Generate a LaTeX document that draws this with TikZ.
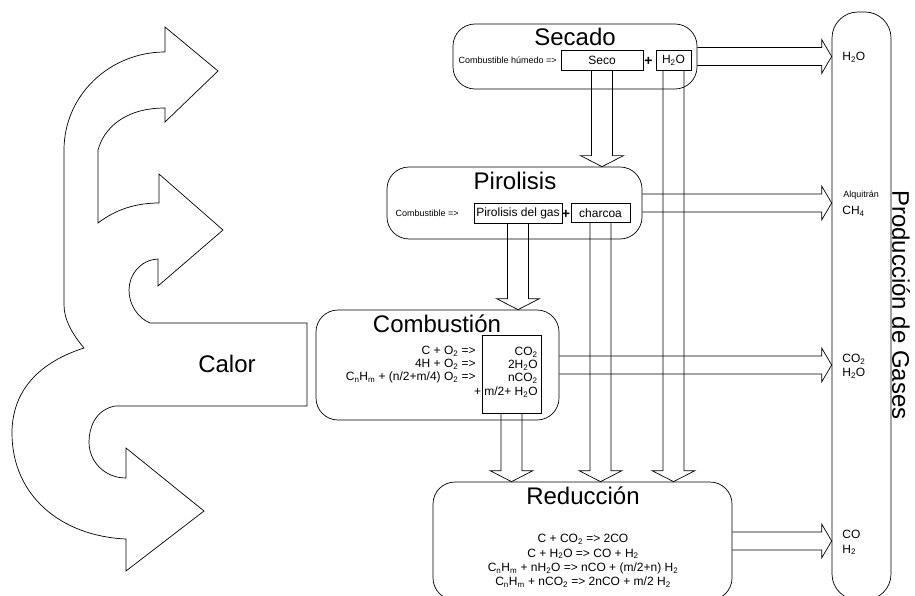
\documentclass[tikz,border=0pt]{standalone}
\usepackage{fontspec}
\setmainfont{Liberation Sans}
\usetikzlibrary{calc}
\newcommand{\sbs}[1]{\textsubscript{#1}}

\begin{document}
\begin{tikzpicture}[x=1pt,y=-1pt,line width=0.7pt,
  stage/.style={draw,rounded corners=22,inner sep=0},
  cell/.style={draw,inner sep=0,font=\fontsize{12}{14}\selectfont},
  big/.style={font=\fontsize{24}{28}\selectfont,inner sep=0},
  eq/.style={font=\fontsize{12}{13}\selectfont,inner sep=0},
  tiny/.style={font=\fontsize{9}{11}\selectfont,inner sep=0},
  plus/.style={font=\fontsize{14}{14}\selectfont\bfseries,inner sep=0},
  fatdown/.style={to path={($(\tikztostart)+(-10.5,0)$) -- ($(\tikztotarget)+(-10.5,-11)$) -- ($(\tikztotarget)+(-21.5,-11)$) -- (\tikztotarget) -- ($(\tikztotarget)+(21.5,-11)$) -- ($(\tikztotarget)+(10.5,-11)$) -- ($(\tikztostart)+(10.5,0)$)}},
  fatright/.style={to path={($(\tikztostart)+(0,-9)$) -- ($(\tikztotarget)+(-10,-9)$) -- ($(\tikztotarget)+(-10,-17)$) -- (\tikztotarget) -- ($(\tikztotarget)+(-10,17)$) -- ($(\tikztotarget)+(-10,9)$) -- ($(\tikztostart)+(0,9)$)}}]
  \useasboundingbox (0,0) rectangle (915,596);
  \clip (0,0) rectangle (915,596);

  \draw (307,323) -- (307,406) -- (115,406)
    .. controls (95,410) and (89,428) .. (89,442)
    .. controls (89,462) and (105,478) .. (126,478)
    -- (126,448) -- (204,511) -- (126,571) -- (126,539)
    .. controls (60,536) and (12,495) .. (12,433)
    .. controls (12,390) and (40,362) .. (84,348)
    .. controls (73,335) and (64,320) .. (64,305) -- (64,150)
    .. controls (64,95) and (110,52) .. (165,52)
    -- (165,27) -- (218,71) -- (165,122) -- (165,108)
    .. controls (125,108) and (104,128) .. (98,150) -- (98,223)
    .. controls (115,210) and (135,203) .. (159,203)
    -- (159,174) -- (223,230) -- (158,286) -- (158,259)
    .. controls (140,260) and (129,275) .. (129,290)
    .. controls (129,305) and (138,318) .. (150,323) -- cycle;
  \node[big] (calor) at (227,364) {Calor};

  \node[stage,minimum width=244,minimum height=65] (secado) at (575,56.5) {};
  \node[big] (secadot) at (575,37) {Secado};
  \node[tiny,anchor=east] (humedo) at (557,60) {Combustible húmedo =>};
  \node[cell,minimum width=82,minimum height=20] (seco) at (602,60) {Seco};
  \node[plus] (mas1) at (648.5,61) {+};
  \node[cell,minimum width=35,minimum height=20] (agua) at (673.5,60) {H\sbs{2}O};

  \node[stage,minimum width=255,minimum height=72] (piro) at (514.5,203) {};
  \node[big] (pirot) at (515,181) {Pirolisis};
  \node[tiny,anchor=east] (combus) at (459,213) {Combustible =>};
  \node[cell,minimum width=88,minimum height=20] (pgas) at (518,213) {Pirolisis del gas};
  \node[plus] (mas2) at (566,214) {+};
  \node[cell,minimum width=59,minimum height=19] (charcoa) at (600.5,213) {charcoa};

  \node[stage,minimum width=243,minimum height=110] (comb) at (437.5,365) {};
  \node[big] (combt) at (437,324) {Combustión};
  \node[cell,minimum width=59,minimum height=78] (cprod) at (511.5,374) {};
  \node[eq,align=right,anchor=east] (creac) at (476,365) {C + O\sbs{2} =>\\4H + O\sbs{2} =>\\C\sbs{n}H\sbs{m} + (n/2+m/4) O\sbs{2} =>};
  \node[eq,align=right,anchor=east] (cres) at (538,372.5) {CO\sbs{2}\\2H\sbs{2}O\\nCO\sbs{2}\\[1pt]+ m/2+ H\sbs{2}O};

  \node[stage,minimum width=299,minimum height=118] (red) at (582.5,541) {};
  \node[big] (redt) at (583,496) {Reducción};
  \node[eq,align=center,font=\fontsize{12}{14.3}\selectfont] (rreac) at (583,561) {C + CO\sbs{2} => 2CO\\C + H\sbs{2}O => CO + H\sbs{2}\\C\sbs{n}H\sbs{m} + nH\sbs{2}O => nCO + (m/2+n) H\sbs{2}\\C\sbs{n}H\sbs{m} + nCO\sbs{2} => 2nCO + m/2 H\sbs{2}};

  \node[stage,rounded corners=26,minimum width=59,minimum height=588] (gases) at (861.5,306) {};
  \node[big,rotate=-90] (gasest) at (901,305) {Producción de Gases};
  \node[eq,anchor=west] (g1) at (842,57) {H\sbs{2}O};
  \node[tiny,anchor=west] (alq) at (843,195) {Alquitrán};
  \node[eq,anchor=west] (ch4) at (842,211) {CH\sbs{4}};
  \node[eq,anchor=west,align=left,font=\fontsize{12}{14}\selectfont] (g3) at (842,366) {CO\sbs{2}\\H\sbs{2}O};
  \node[eq,anchor=west,align=left,font=\fontsize{12}{14.5}\selectfont] (g4) at (842,542.5) {CO\\H\sbs{2}};

  \draw (seco.south) to[fatdown] (seco.south |- piro.north);
  \draw (pgas.south) to[fatdown] (pgas.south |- comb.north);
  \draw (cprod.south) to[fatdown] (cprod.south |- red.north);
  \draw (charcoa.south) to[fatdown] (charcoa.south |- red.north);
  \draw (agua.south) to[fatdown] (agua.south |- red.north);
  \draw (secado.east) to[fatright] (secado.east -| gases.west);
  \draw (piro.east) to[fatright] (piro.east -| gases.west);
  \draw (comb.east) to[fatright] (comb.east -| gases.west);
  \draw (red.east) to[fatright] (red.east -| gases.west);
\end{tikzpicture}
\end{document}
